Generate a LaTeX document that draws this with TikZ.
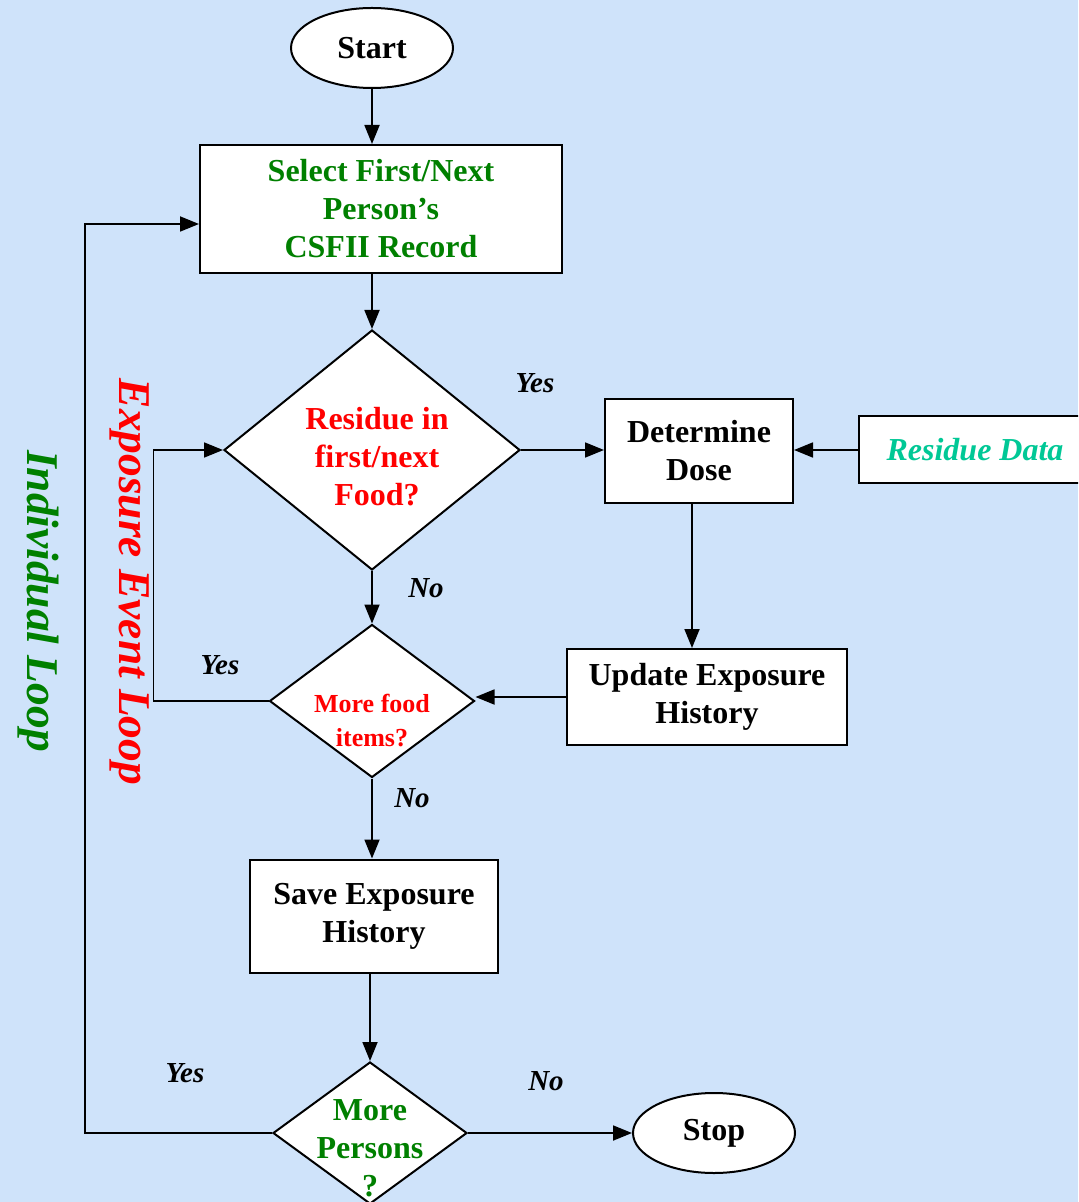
\documentclass[tikz,border=0pt]{standalone}
\usepackage{fontspec}
\setmainfont{Liberation Serif}
\usetikzlibrary{shapes.geometric,arrows.meta}
\definecolor{bgblue}{RGB}{207,227,250}
\definecolor{pgreen}{RGB}{0,128,0}
\definecolor{rdata}{RGB}{0,200,150}
\tikzstyle{box}=[draw, fill=white, line width=1pt, align=center]
\tikzstyle{term}=[draw, ellipse, fill=white, line width=1pt,
    minimum width=81pt, minimum height=40pt]
\tikzstyle{dec}=[draw, diamond, fill=white, line width=1pt, inner sep=0pt]
\tikzstyle{ans}=[font=\fontsize{14.5}{17}\selectfont\bfseries\itshape]
\tikzstyle{looplab}=[rotate=-90, font=\fontsize{22.7}{26}\selectfont\bfseries\itshape]
\tikzstyle{arr}=[-{Triangle[length=9.5pt,width=7.5pt]}, line width=0.9pt]

\begin{document}
\begin{tikzpicture}[x=0.5pt, y=-0.5pt, font=\fontsize{16}{19}\selectfont\bfseries]
  \fill[bgblue] (0,0) rectangle (1078,1202);
  \clip (0,0) rectangle (1078,1202);

  \node[term] at (372,48) (start) {Start};
  \node[box, text=pgreen, minimum width=181pt, minimum height=64pt] at (381,209) (sel) {Select First/Next\\Person’s\\CSFII Record};
  \node[dec, minimum width=148pt, minimum height=120pt,
    label={[align=center, text=red, xshift=2.5pt, yshift=-3.5pt]center:Residue in\\first/next\\Food?}] at (372,450) (food) {};
  \node[box, minimum width=94pt, minimum height=52pt] at (699,451) (dose) {Determine\\Dose};
  \node[box, text=rdata, font=\fontsize{16}{19}\selectfont\bfseries\itshape,
    minimum width=116pt, minimum height=33.5pt] at (975,450) (resid) {Residue Data};
  \node[box, minimum width=140pt, minimum height=48pt] at (707,697) (upd) {Update Exposure\\History};
  \node[dec, minimum width=102.5pt, minimum height=76.5pt,
    label={[align=center, text=red, yshift=-10pt, font=\fontsize{13}{17}\selectfont\bfseries]center:More food\\items?}] at (372,701) (more) {};
  \node[box, minimum width=124pt, minimum height=56.5pt] at (374,916) (save) {Save Exposure\\History};
  \node[dec, minimum width=97pt, minimum height=71pt,
    label={[align=center, text=pgreen, yshift=-7.5pt]center:More\\Persons\\?}] at (370,1133) (persons) {};
  \node[term] at (714,1133) (stop) {Stop};

  % flow
  \draw[arr] (start) -- (sel.north -| start);
  \draw[arr] (sel.south -| food) -- (food.north);
  \draw[arr] (food.east) -- (food.east -| dose.west);
  \draw[arr] (resid.west) -- (resid.west -| dose.east);
  \draw[arr] ([xshift=-3.5pt]dose.south) -- ([xshift=-3.5pt]dose.south |- upd.north);
  \draw[arr] (upd.west) -- (upd.west -| more.east);
  \draw[arr] (food.south) -- (more.north);
  \draw[arr] (more.south) -- (save.north -| more);
  \draw[arr] (save.south -| persons) -- (persons.north);
  \draw[arr] (persons.east) -- (stop.west);

  % loops
  \draw[arr] (more.west) -- ++(-115,0) |- (food.west);
  \draw[arr] (persons.west) -- ++(-187,0) |- ([yshift=-7.5pt]sel.west);

  \node[ans] at (535,383) (yes1) {Yes};
  \node[ans] at (426,588) (no1) {No};
  \node[ans] at (220,665) (yes2) {Yes};
  \node[ans] at (412,798) (no2) {No};
  \node[ans] at (185,1073) (yes3) {Yes};
  \node[ans] at (546,1081) (no3) {No};
  \node[looplab, text=pgreen] at (38,601) (indiv) {Individual Loop};
  \node[looplab, text=red] at (130,582) (expo) {Exposure Event Loop};
\end{tikzpicture}
\end{document}
